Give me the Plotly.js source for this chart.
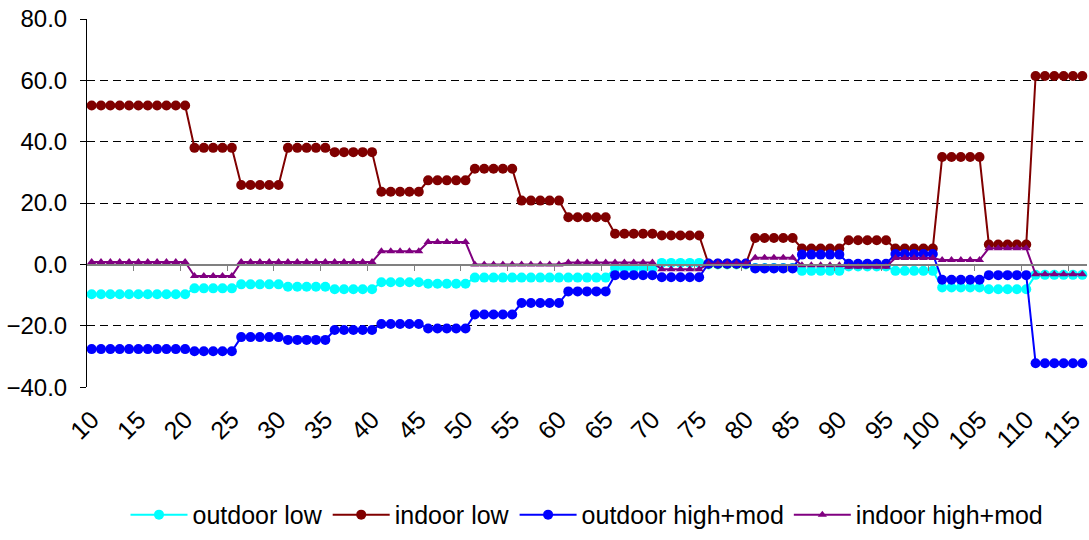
<!DOCTYPE html>
<html>
<head>
<meta charset="utf-8">
<script src="https://cdn.plot.ly/plotly-3.0.1.min.js"></script>
<style>html,body{margin:0;padding:0;background:#fff;}#chart{width:1089px;height:540px;}</style>
</head>
<body>
<div id="chart"></div>
<script>
// categories (x values)
var categories = [10,11,12,13,14,15,16,17,18,19,20,
  21,22,23,24,25, 26,27,28,29,30, 31,32,33,34,35, 36,37,38,39,40,
  41,42,43,44,45, 46,47,48,49,50, 51,52,53,54,55, 56,57,58,59,60,
  61,62,63,64,65, 66,67,68,69,70, 71,72,73,74,75, 76,77,78,79,80,
  81,82,83,84,85, 86,87,88,89,90, 91,92,93,94,95, 96,97,98,99,100,
  101,102,103,104,105, 106,107,108,109,110, 111,112,113,114,115,116];

var outdoorLow = [-9.7,-9.7,-9.7,-9.7,-9.7,-9.7,-9.7,-9.7,-9.7,-9.7,-9.7,
  -7.8,-7.8,-7.8,-7.8,-7.8, -6.5,-6.5,-6.5,-6.5,-6.5, -7.3,-7.3,-7.3,-7.3,-7.3,
  -8.1,-8.1,-8.1,-8.1,-8.1, -5.8,-5.8,-5.8,-5.8,-5.8, -6.3,-6.3,-6.3,-6.3,-6.3,
  -4.3,-4.3,-4.3,-4.3,-4.3, -4.3,-4.3,-4.3,-4.3,-4.3, -4.3,-4.3,-4.3,-4.3,-4.3,
  -1.2,-1.2,-1.2,-1.2,-1.2, 0.5,0.5,0.5,0.5,0.5, 0.0,0.0,0.0,0.0,0.0,
  -1.2,-1.2,-1.2,-1.2,-1.2, -2.1,-2.1,-2.1,-2.1,-2.1, -0.7,-0.7,-0.7,-0.7,-0.7,
  -2.1,-2.1,-2.1,-2.1,-2.1, -7.5,-7.5,-7.5,-7.5,-7.5, -8.1,-8.1,-8.1,-8.1,-8.1,
  -3.4,-3.4,-3.4,-3.4,-3.4,-3.4];

var indoorLow = [51.8,51.8,51.8,51.8,51.8,51.8,51.8,51.8,51.8,51.8,51.8,
  38.0,38.0,38.0,38.0,38.0, 25.9,25.9,25.9,25.9,25.9, 38.0,38.0,38.0,38.0,38.0,
  36.6,36.6,36.6,36.6,36.6, 23.7,23.7,23.7,23.7,23.7, 27.4,27.4,27.4,27.4,27.4,
  31.2,31.2,31.2,31.2,31.2, 20.8,20.8,20.8,20.8,20.8, 15.4,15.4,15.4,15.4,15.4,
  10.0,10.0,10.0,10.0,10.0, 9.4,9.4,9.4,9.4,9.4, 0.2,0.2,0.2,0.2,0.2,
  8.6,8.6,8.6,8.6,8.6, 5.2,5.2,5.2,5.2,5.2, 7.9,7.9,7.9,7.9,7.9,
  5.2,5.2,5.2,5.2,5.2, 35.0,35.0,35.0,35.0,35.0, 6.5,6.5,6.5,6.5,6.5,
  61.4,61.4,61.4,61.4,61.4,61.4];

var outdoorHighMod = [-27.6,-27.6,-27.6,-27.6,-27.6,-27.6,-27.6,-27.6,-27.6,-27.6,-27.6,
  -28.3,-28.3,-28.3,-28.3,-28.3, -23.7,-23.7,-23.7,-23.7,-23.7, -24.6,-24.6,-24.6,-24.6,-24.6,
  -21.4,-21.4,-21.4,-21.4,-21.4, -19.4,-19.4,-19.4,-19.4,-19.4, -20.9,-20.9,-20.9,-20.9,-20.9,
  -16.3,-16.3,-16.3,-16.3,-16.3, -12.6,-12.6,-12.6,-12.6,-12.6, -8.8,-8.8,-8.8,-8.8,-8.8,
  -3.5,-3.5,-3.5,-3.5,-3.5, -4.2,-4.2,-4.2,-4.2,-4.2, 0.3,0.3,0.3,0.3,0.3,
  -1.3,-1.3,-1.3,-1.3,-1.3, 3.2,3.2,3.2,3.2,3.2, 0.2,0.2,0.2,0.2,0.2,
  3.4,3.4,3.4,3.4,3.4, -5.0,-5.0,-5.0,-5.0,-5.0, -3.5,-3.5,-3.5,-3.5,-3.5,
  -32.2,-32.2,-32.2,-32.2,-32.2,-32.2];

var indoorHighMod = [0.8,0.8,0.8,0.8,0.8,0.8,0.8,0.8,0.8,0.8,0.8,
  -3.8,-3.8,-3.8,-3.8,-3.8, 0.8,0.8,0.8,0.8,0.8, 0.8,0.8,0.8,0.8,0.8,
  0.8,0.8,0.8,0.8,0.8, 4.3,4.3,4.3,4.3,4.3, 7.3,7.3,7.3,7.3,7.3,
  0.0,0.0,0.0,0.0,0.0, 0.0,0.0,0.0,0.0,0.0, 0.6,0.6,0.6,0.6,0.6,
  0.6,0.6,0.6,0.6,0.6, -1.6,-1.6,-1.6,-1.6,-1.6, 0.2,0.2,0.2,0.2,0.2,
  2.2,2.2,2.2,2.2,2.2, -0.3,-0.3,-0.3,-0.3,-0.3, -0.8,-0.8,-0.8,-0.8,-0.8,
  2.1,2.1,2.1,2.1,2.1, 1.4,1.4,1.4,1.4,1.4, 5.3,5.3,5.3,5.3,5.3,
  -3.2,-3.2,-3.2,-3.2,-3.2,-3.2];

var xTickVals = [10,15,20,25,30,35,40,45,50,55,60,65,70,75,80,85,90,95,100,105,110,115];
var xTickText = ["10","15","20","25","30","35","40","45","50","55","60","65","70","75","80","85","90","95","100","105","110","115"];
var zeroAxisTicks = [14.5,19.5,24.5,29.5,34.5,39.5,44.5,49.5,54.5,59.5,64.5,69.5,74.5,79.5,84.5,89.5,94.5,99.5,104.5,109.5,114.5];
var yTickVals = [-40,-20,0,20,40,60,80];

var FONT = 'Arial, "Liberation Sans", sans-serif';
var X_RANGE = [9.5, 116.5];
var Y_RANGE = [-40, 80];
var Y_DOMAIN = [0.03125, 1];  // room between plot bottom and the category labels

function series(name, y, color, symbol, msize) {
  return {
    type: 'scatter', mode: 'lines+markers', name: name,
    x: categories, y: y,
    line: {color: color, width: 2},
    marker: {color: color, symbol: symbol, size: msize, line: {width: 0}},
    cliponaxis: false
  };
}

var traces = [
  series('outdoor low', outdoorLow, '#00FFFF', 'circle', 10),
  series('indoor low', indoorLow, '#800000', 'circle', 10),
  series('outdoor high+mod', outdoorHighMod, '#0000FF', 'circle', 10),
  series('indoor high+mod', indoorHighMod, '#800080', 'triangle-up', 8),
  {type: 'scatter', mode: 'lines', x: [], y: [], xaxis: 'x2', yaxis: 'y', showlegend: false, hoverinfo: 'skip'}
];

var zeroPos = Y_DOMAIN[0] + (Y_DOMAIN[1] - Y_DOMAIN[0]) * (0 - Y_RANGE[0]) / (Y_RANGE[1] - Y_RANGE[0]);

var layout = {
  width: 1089, height: 540,
  margin: {l: 87, r: 2, t: 19, b: 137},
  paper_bgcolor: '#ffffff', plot_bgcolor: '#ffffff',
  font: {family: FONT, color: '#000000', size: 22},
  showlegend: true,
  legend: {
    orientation: 'h', x: 0.5, xanchor: 'center', y: -0.305, yanchor: 'middle',
    font: {family: FONT, size: 25, color: '#000000'},
    itemwidth: 57, traceorder: 'normal', bgcolor: 'rgba(0,0,0,0)'
  },
  xaxis: {
    type: 'linear', range: X_RANGE, anchor: 'free', position: 0,
    tickmode: 'array', tickvals: xTickVals, ticktext: xTickText,
    tickangle: -45, ticks: '', showgrid: false, zeroline: false, showline: false,
    tickfont: {family: FONT, size: 25, color: '#000000'}
  },
  xaxis2: {
    type: 'linear', range: X_RANGE, overlaying: 'x', anchor: 'free', position: zeroPos,
    tickmode: 'array', tickvals: zeroAxisTicks, ticks: 'outside', ticklen: 5, tickwidth: 1,
    tickcolor: '#808080', showticklabels: false, showgrid: false, zeroline: false,
    showline: true, linecolor: '#808080', linewidth: 1.5
  },
  yaxis: {
    domain: Y_DOMAIN,
    range: Y_RANGE, tickmode: 'array', tickvals: yTickVals, tickformat: '.1f',
    showline: true, linecolor: '#000000', linewidth: 1,
    ticks: 'outside', ticklen: 6, tickcolor: '#000000',
    showgrid: true, gridcolor: '#000000', gridwidth: 1, griddash: '8px,5px',
    zeroline: false, ticklabelstandoff: 8,
    tickfont: {family: FONT, size: 24, color: '#000000'}
  }
};

Plotly.newPlot('chart', traces, layout, {displayModeBar: false, staticPlot: true});
</script>
</body>
</html>
